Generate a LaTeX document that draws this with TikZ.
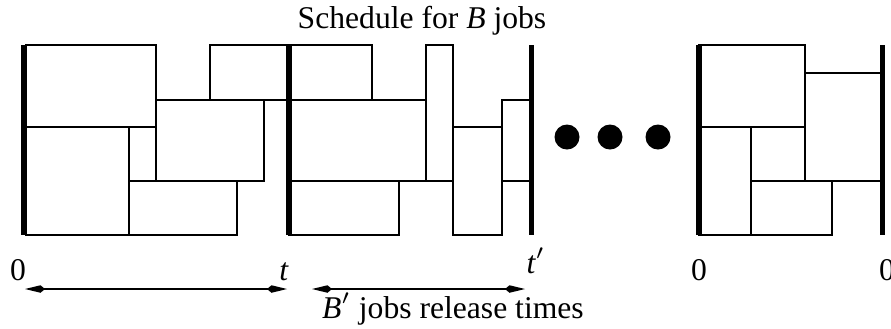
\documentclass[tikz,border=0pt]{standalone}
\usepackage{fontspec}
\setmainfont{Liberation Serif}
\usetikzlibrary{arrows.meta}

\begin{document}
\begin{tikzpicture}[x=0.1mm, y=-0.1mm, font=\fontsize{9}{11}\selectfont,
  job/.style={draw, line width=0.5pt},
  bar/.style={line width=1.6pt},
  span/.style={line width=0.5pt,
    {Kite[length=2mm,width=0.75mm,inset=0.45mm]}-{Kite[length=2mm,width=0.75mm,inset=0.45mm]}},
  lbl/.style={anchor=base, inner sep=0pt}]
  \useasboundingbox (0,0) rectangle (891,328);
  % Helper to draw one job: \jobbox{x1}{y1}{x2}{y2}
  \newcommand{\jobbox}[4]{\draw[job] (#1,#2) rectangle (#3,#4);}
  % First batch: 0 .. t
  \jobbox{26}{45}{156}{127}   \jobbox{26}{127}{129}{235}
  \jobbox{129}{181}{237}{235} \jobbox{156}{100}{264}{181}
  \jobbox{210}{45}{289}{100}
  % Second batch: t .. t'
  \jobbox{289}{45}{372}{100}  \jobbox{289}{100}{426}{181}
  \jobbox{426}{45}{453}{181}  \jobbox{453}{127}{502}{235}
  \jobbox{502}{100}{532}{181} \jobbox{289}{181}{399}{235}
  % Last batch
  \jobbox{699}{45}{805}{127}  \jobbox{805}{73}{883}{181}
  \jobbox{699}{127}{751}{235} \jobbox{751}{181}{832}{235}
  % Batch borders
  \foreach \x in {23.5,289,531.5,699,882.5}
    \draw[bar] (\x,45) -- (\x,235);
  % Dots
  \foreach \x in {567,610,658}
    \fill (\x,137) circle [radius=1.25mm];
  % Title
  \node[lbl] (title) at (422,28) {Schedule for \textit{B} jobs};
  % Time labels
  \node[lbl] (zeroA) at (18,280) {0};
  \node[lbl] (tA) at (284,280) {\textit{t}};
  \node[lbl] (tB) at (536,273) {\textit{t}$'$};
  \node[lbl] (zeroB) at (699,280) {0};
  \node[lbl] (zeroC) at (887,280) {0};
  % Spans
  \coordinate (spanAl) at (25,289);
  \coordinate (spanAr) at (287,289);
  \coordinate (spanBl) at (312,289);
  \coordinate (spanBr) at (525,289);
  \draw[span] (spanAl) -- (spanAr);
  \draw[span] (spanBl) -- (spanBr);
  \node[lbl] (release) at (453,318) {\textit{B}$'$ jobs release times};
\end{tikzpicture}
\end{document}
